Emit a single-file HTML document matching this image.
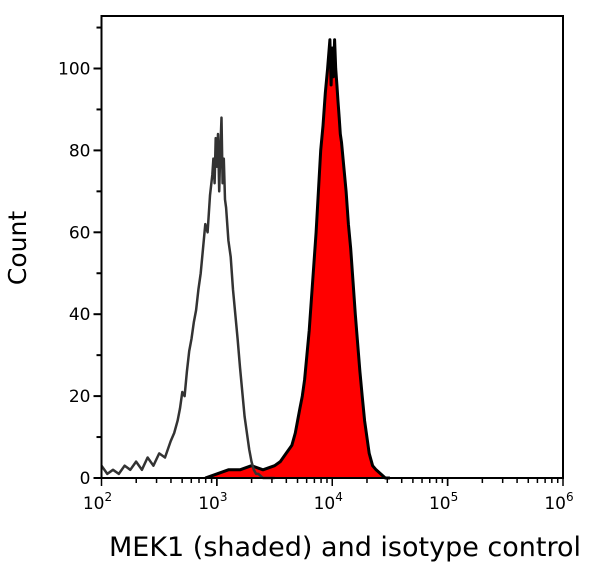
<!DOCTYPE html>
<html><head><meta charset="utf-8"><style>
body{margin:0;background:#fff;width:600px;height:563px;overflow:hidden;font-family:"DejaVu Sans","Liberation Sans",sans-serif}
</style></head><body>
<svg id="chart" width="600" height="563" xmlns="http://www.w3.org/2000/svg"></svg>
<script>
const xTickExps = [2, 3, 4, 5, 6];
const yTicks = [0, 20, 40, 60, 80, 100];
const isoLogX = [2.0,2.05,2.1,2.15,2.2,2.25,2.3,2.35,2.4,2.45,2.5,2.55,2.6,2.63,2.66,2.68,2.7,2.72,2.74,2.76,2.78,2.8,2.82,2.84,2.86,2.88,2.9,2.92,2.94,2.96,2.97,2.98,2.99,3.0,3.01,3.02,3.03,3.04,3.05,3.06,3.07,3.08,3.1,3.12,3.14,3.16,3.18,3.2,3.22,3.24,3.26,3.28,3.3,3.32,3.34,3.36,3.4,3.5];
const isoCount = [3,1,2,1,3,2,4,2,5,3,6,5,9,11,14,17,21,20,26,31,34,38,41,46,50,56,62,60,69,74,78,72,83,76,84,70,80,88,72,78,68,66,58,54,46,40,34,27,21,15,11,7,4,2,1,1,0,0];
const mekLogX = [2.9,3.0,3.1,3.2,3.3,3.4,3.5,3.55,3.6,3.65,3.68,3.7,3.72,3.74,3.76,3.78,3.8,3.82,3.84,3.86,3.88,3.9,3.92,3.94,3.96,3.98,3.99,4.0,4.01,4.02,4.03,4.04,4.05,4.06,4.07,4.08,4.1,4.12,4.14,4.16,4.18,4.2,4.22,4.24,4.26,4.28,4.3,4.32,4.35,4.38,4.42,4.46,4.5];
const mekCount = [0,1,2,2,3,2,3,4,6,8,11,14,17,20,24,30,36,44,52,60,70,80,86,94,100,107,96,105,98,107,100,96,92,88,84,82,76,70,62,56,48,40,33,26,20,14,10,6,3,2,1,0,0];
const W=600,H=563,L=101.5,R=563,T=16,B=478;
const svg=document.getElementById('chart');
const NS='http://www.w3.org/2000/svg';
const xs=v=>L+(v-2)*(R-L)/4;
const ys=v=>B-v*(B-68.5)/100;
function mk(tag,attrs,parent){const e=document.createElementNS(NS,tag);for(const k in attrs)e.setAttribute(k,attrs[k]);(parent||svg).appendChild(e);return e;}
let d='M'+xs(mekLogX[0])+','+ys(0);
mekLogX.forEach((x,i)=>{d+=' L'+xs(x).toFixed(1)+','+ys(mekCount[i]).toFixed(1);});
d+=' L'+xs(mekLogX[mekLogX.length-1])+','+ys(0)+' Z';
const fill=mk('path',{d:d,fill:'#ff0000',stroke:'none'});


const mline=mk('polyline',{points:mekLogX.map((x,i)=>xs(x).toFixed(1)+','+ys(mekCount[i]).toFixed(1)).join(' '),fill:'none',stroke:'#000','stroke-width':3,'stroke-linejoin':'round'});


const iline=mk('polyline',{points:isoLogX.map((x,i)=>xs(x).toFixed(1)+','+ys(isoCount[i]).toFixed(1)).join(' '),fill:'none',stroke:'#333','stroke-width':2.5,'stroke-linejoin':'round'});


const frame=mk('rect',{x:L,y:T,width:R-L,height:B-T,fill:'none',stroke:'#000','stroke-width':2});


for(let v=0;v<=110;v+=10){const major=v%20===0&&v<=100;mk('line',{x1:L-(major?8:5),x2:L,y1:ys(v),y2:ys(v),stroke:'#000','stroke-width':2});}
yTicks.forEach(v=>{const t=mk('text',{x:L-11,y:ys(v)+6,'text-anchor':'end','font-size':17,fill:'#000'});t.textContent=v;

});
for(let e=2;e<6;e++){for(let m=1;m<=10;m++){const x=xs(e+Math.log10(m));mk('line',{x1:x,x2:x,y1:B,y2:B+(m===1||m===10?8:5),stroke:'#000','stroke-width':1.5});}}
xTickExps.forEach(e=>{const t=mk('text',{x:xs(e)-4,y:B+31,'text-anchor':'middle','font-size':17,fill:'#000'});t.textContent='10';


const s=mk('tspan',{dy:-8,'font-size':12},t);s.textContent=e;});
const xt=mk('text',{x:345,y:556,'text-anchor':'middle','font-size':27,fill:'#000'});xt.textContent='MEK1 (shaded) and isotype control';


const yt=mk('text',{x:26,y:248,'text-anchor':'middle','font-size':25,fill:'#000',transform:'rotate(-90 26 248)'});yt.textContent='Count';


</script>
</body></html>
